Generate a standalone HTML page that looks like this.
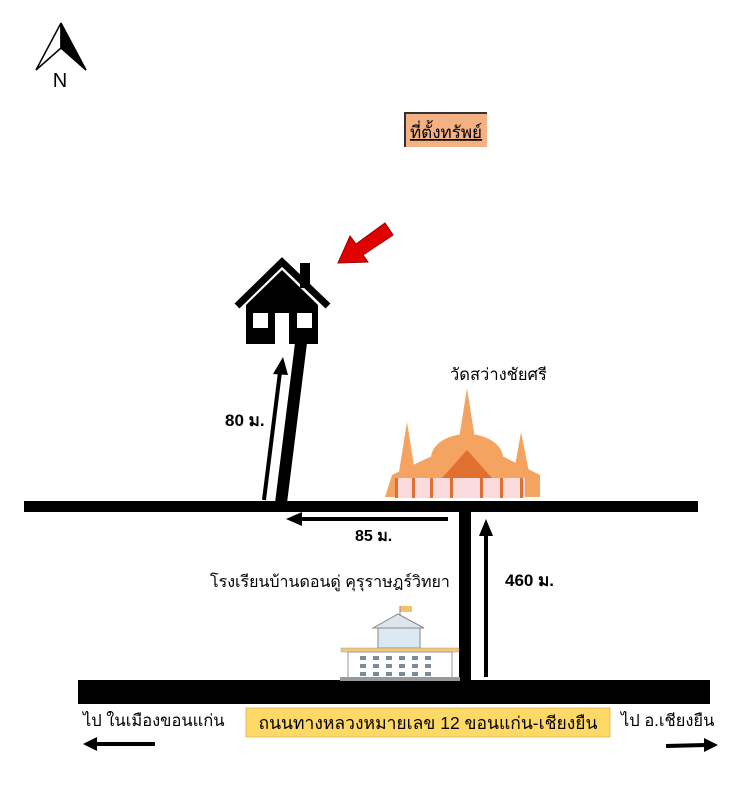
<!DOCTYPE html>
<html><head><meta charset="utf-8"><style>
html,body{margin:0;padding:0;background:#fff;width:744px;height:800px;overflow:hidden}
svg{display:block}
text{font-family:"Liberation Sans","Noto Sans CJK SC",sans-serif}
</style></head><body>
<svg width="744" height="800" viewBox="0 0 744 800" xmlns="http://www.w3.org/2000/svg">
<!-- North arrow -->
<polygon points="61,23 36,70 61,48" fill="#fff" stroke="#000" stroke-width="1.5"/>
<polygon points="61,23 86,70 61,48" fill="#000" stroke="#000" stroke-width="1.5"/>
<text x="60" y="87" font-size="20" text-anchor="middle">N</text>
<!-- label -->
<rect x="404" y="112" width="83" height="35" fill="#f4b183"/>
<line x1="404" y1="113" x2="487" y2="113" stroke="#333" stroke-width="2"/>
<line x1="405" y1="112" x2="405" y2="147" stroke="#333" stroke-width="2"/>
<text x="446" y="138" font-size="17" text-anchor="middle" font-family="Liberation Serif,'Noto Serif CJK SC',serif" text-decoration="underline">ที่ตั้งทรัพย์</text>
<!-- red arrow -->
<polygon points="338,263 350,236 356,244 385,223 393,235 363,255 368,262" fill="#e00000" stroke="#900" stroke-width="1"/>
<!-- house -->
<polyline points="237,306 282,262 328,306" fill="none" stroke="#000" stroke-width="7"/>
<rect x="300" y="263" width="10" height="25" fill="#000"/>
<polygon points="246,305 282,270 318,305 318,344 246,344" fill="#000"/>
<rect x="253" y="313" width="15" height="15" fill="#fff"/>
<rect x="297" y="313" width="15" height="15" fill="#fff"/>
<rect x="275" y="313" width="14" height="31" fill="#fff"/>
<!-- house road -->
<polygon points="295,343 307,343 287,503 275,503" fill="#000"/>
<!-- 80 arrow -->
<line x1="264" y1="500" x2="280" y2="372" stroke="#000" stroke-width="4"/>
<polygon points="283,357 273,374 288,375" fill="#000"/>
<text x="225" y="426" font-size="17" font-weight="bold">80 ม.</text>
<!-- roads -->
<rect x="24" y="501" width="674" height="11" fill="#000"/>
<rect x="459" y="505" width="12" height="178" fill="#000"/>
<rect x="78" y="680" width="632" height="24" fill="#000"/>
<!-- 85 arrow -->
<line x1="448" y1="519" x2="300" y2="519" stroke="#000" stroke-width="4"/>
<polygon points="286,519 302,512 302,526" fill="#000"/>
<text x="355" y="541" font-size="16" font-weight="bold">85 ม.</text>
<!-- 460 arrow -->
<line x1="486" y1="677" x2="486" y2="535" stroke="#000" stroke-width="4"/>
<polygon points="486,519 479,536 493,536" fill="#000"/>
<text x="505" y="586" font-size="17" font-weight="bold">460 ม.</text>
<text x="210" y="587" font-size="16">โรงเรียนบ้านดอนดู่ คุรุราษฎร์วิทยา</text>
<!-- temple -->
<text x="450" y="380" font-size="16.5">วัดสว่างชัยศรี</text>
<g>
<polygon points="467,388 458,445 476,445" fill="#f4a460"/>
<polygon points="407,422 399,472 415,472" fill="#f4a460"/>
<polygon points="521,432 514,472 529,472" fill="#f4a460"/>
<ellipse cx="467" cy="458" rx="36" ry="24" fill="#f4a460"/>
<polygon points="392,475 432,456 502,456 540,475 540,497 385,497" fill="#f4a460"/>
<polygon points="467,450 442,478 492,478" fill="#e07030"/>
<rect x="395" y="478" width="130" height="20" fill="#fadadd"/>
<g fill="#e07030"><rect x="395" y="478" width="3" height="20"/><rect x="412" y="478" width="3" height="20"/><rect x="430" y="478" width="3" height="20"/><rect x="450" y="478" width="3" height="20"/><rect x="480" y="478" width="3" height="20"/><rect x="500" y="478" width="3" height="20"/><rect x="520" y="478" width="3" height="20"/></g>
</g>
<!-- school -->
<rect x="400" y="606" width="12" height="6" fill="#f5c06a"/>
<line x1="400" y1="606" x2="400" y2="622" stroke="#888" stroke-width="1"/>
<polygon points="373,628 398,614 424,628" fill="#dde6ec" stroke="#888"/>
<rect x="378" y="628" width="42" height="20" fill="#dbe9f2" stroke="#888"/>
<rect x="341" y="648" width="118" height="4" fill="#f2c77a" stroke="#999" stroke-width="0.5"/>
<rect x="348" y="652" width="104" height="26" fill="#fff" stroke="#999"/>
<g fill="#7a8a96"><rect x="360" y="656" width="6" height="4"/><rect x="373" y="656" width="6" height="4"/><rect x="386" y="656" width="6" height="4"/><rect x="399" y="656" width="6" height="4"/><rect x="412" y="656" width="6" height="4"/><rect x="425" y="656" width="6" height="4"/>
<rect x="360" y="664" width="6" height="4"/><rect x="373" y="664" width="6" height="4"/><rect x="386" y="664" width="6" height="4"/><rect x="399" y="664" width="6" height="4"/><rect x="412" y="664" width="6" height="4"/><rect x="425" y="664" width="6" height="4"/>
<rect x="360" y="672" width="6" height="4"/><rect x="373" y="672" width="6" height="4"/><rect x="386" y="672" width="6" height="4"/><rect x="399" y="672" width="6" height="4"/><rect x="412" y="672" width="6" height="4"/><rect x="425" y="672" width="6" height="4"/></g>
<rect x="340" y="677" width="120" height="4" fill="#999"/>
<!-- bottom -->
<text x="83" y="726" font-size="16.5">ไป ในเมืองขอนแก่น</text>
<rect x="246" y="708" width="364" height="29" fill="#ffd966" stroke="#e0c060"/>
<text x="428" y="729" font-size="17.5" text-anchor="middle">ถนนทางหลวงหมายเลข 12 ขอนแก่น-เชียงยืน</text>
<text x="621" y="726" font-size="16.5">ไป อ.เชียงยืน</text>
<line x1="155" y1="744" x2="96" y2="744" stroke="#000" stroke-width="4"/>
<polygon points="83,744 97,737 97,751" fill="#000"/>
<line x1="666" y1="746" x2="706" y2="745" stroke="#000" stroke-width="4"/>
<polygon points="718,745 704,738 704,752" fill="#000"/>
</svg>
</body></html>
